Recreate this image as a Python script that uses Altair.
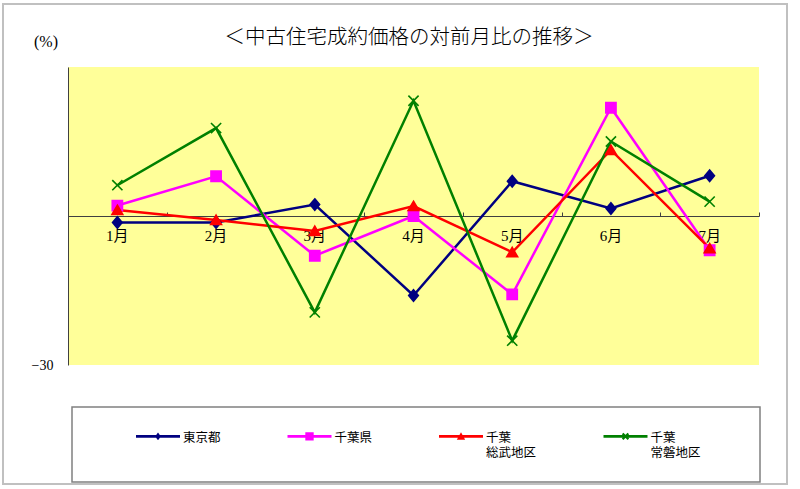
import altair as alt
import pandas as pd

# ---- data ----
months = ["1月", "2月", "3月", "4月", "5月", "6月", "7月"]
series_names = ["東京都", "千葉県", "千葉 総武地区", "千葉 常磐地区"]
tokyo = [-1.3, -1.3, 2.3, -16.0, 7.0, 1.5, 8.1]
chiba = [2.1, 8.0, -8.0, 0.0, -15.8, 21.8, -6.9]
sobu = [1.2, -0.8, -3.0, 2.0, -7.3, 13.3, -6.5]
joban = [6.2, 17.7, -19.4, 23.2, -25.1, 15.0, 2.9]
y_tick_values = [-30]
title_text = "＜中古住宅成約価格の対前月比の推移＞"
unit_text = "(%)"

colors = ["#000080", "#FF00FF", "#FF0000", "#008000"]

rows = []
for name, vals in zip(series_names, [tokyo, chiba, sobu, joban]):
    for m, v in zip(months, vals):
        rows.append({"month": m, "series": name, "value": v})
df = pd.DataFrame(rows)
one = pd.DataFrame({"k": [0]})

SERIF = "'Liberation Serif', 'Noto Sans CJK JP', serif"

# ---- marker shapes ----
def poly(pts):
    return "M" + "L".join(f"{x:.3f},{y:.3f}" for x, y in pts) + "Z"

marker_paths = [
    "M0,-0.95L0.8,0L0,0.95L-0.8,0Z",
    "M-0.85,-0.85L0.85,-0.85L0.85,0.85L-0.85,0.85Z",
    "M0,-0.8L0.9,0.75L-0.9,0.75Z",
    "M-0.85,-0.85L0.85,0.85M-0.85,0.85L0.85,-0.85",
]

dy = 0.2
line_rect = poly([(-1, dy - 0.065), (1, dy - 0.065), (1, dy + 0.065), (-1, dy + 0.065)])
a, d = 0.13, 0.035
legend_paths = [
    line_rect + poly([(0, dy - 0.18), (0.13, dy), (0, dy + 0.18), (-0.13, dy)]),
    line_rect + poly([(-0.19, dy - 0.19), (0.19, dy - 0.19), (0.19, dy + 0.19), (-0.19, dy + 0.19)]),
    line_rect + poly([(0, dy - 0.19), (0.19, dy + 0.15), (-0.19, dy + 0.15)]),
    line_rect
    + poly([(-a + d, dy - a - d), (a + d, dy + a - d), (a - d, dy + a + d), (-a - d, dy - a + d)])
    + poly([(-a - d, dy + a - d), (a - d, dy - a - d), (a + d, dy - a + d), (-a + d, dy + a + d)]),
]

xscale = alt.Scale(type="band", domain=months, paddingInner=0, paddingOuter=0)
yscale = alt.Scale(domain=[-30, 30], nice=False, zero=False)
cscale = alt.Scale(domain=series_names, range=colors)

x_bottom = alt.Axis(orient="bottom", offset=-149, title=None, labelAngle=0, ticks=False,
                    domain=True, domainColor="#404040", domainWidth=1, labelPadding=12,
                    labelFont=SERIF, labelFontSize=15, labelColor="black", grid=False)
x_top = alt.Axis(orient="top", offset=-149, title=None, labels=False, domain=False,
                 ticks=True, tickSize=4, tickBand="extent", tickColor="#404040", grid=False)
y_axis = alt.Axis(values=y_tick_values, title=None, ticks=False, domain=True,
                  domainColor="#404040", domainWidth=1, labelPadding=15,
                  labelFont=SERIF, labelFontSize=14, labelColor="black", grid=False)

base = alt.Chart(df)

lines = base.mark_line(strokeWidth=2.5).encode(
    x=alt.X("month:N", sort=months, scale=xscale, axis=x_bottom),
    y=alt.Y("value:Q", scale=yscale, axis=y_axis),
    color=alt.Color("series:N", scale=cscale, legend=None, sort=series_names),
    detail="series:N",
)

markers = base.mark_point(filled=True, opacity=1, size=144, strokeWidth=1.6).encode(
    x=alt.X("month:N", sort=months, scale=xscale, axis=x_top),
    y=alt.Y("value:Q", scale=yscale, axis=None),
    color=alt.Color("series:N", scale=cscale, legend=None),
    stroke=alt.Stroke("series:N", scale=cscale, legend=None),
    shape=alt.Shape("series:N", scale=alt.Scale(domain=series_names, range=marker_paths), legend=None),
)

label_expr = ("length(split(datum.label, ' ')) > 1 ? split(datum.label, ' ') "
              ": [datum.label, ' ']")
leg = dict(title=None, orient="none", legendX=68, legendY=343, direction="horizontal",
           columnPadding=66.5, labelOffset=3, labelFont=SERIF, labelFontSize=12.5,
           labelColor="black", labelBaseline="top", labelExpr=label_expr,
           symbolSize=1936, symbolOpacity=1, symbolStrokeWidth=0, padding=0, labelLimit=400)

legend_layer = base.mark_point(filled=True, opacity=0, size=1936).encode(
    x=alt.X("month:N", sort=months, scale=xscale, axis=None),
    y=alt.Y("value:Q", scale=yscale, axis=None),
    color=alt.Color("series:N", scale=cscale, legend=alt.Legend(**leg)),
    shape=alt.Shape("series:N", scale=alt.Scale(domain=series_names, range=legend_paths),
                    legend=alt.Legend(**leg)),
)

frame = alt.Chart(one).mark_rect(fillOpacity=0, stroke="#C0C0C0", strokeWidth=2).encode(
    x=alt.value(-65), x2=alt.value(719), y=alt.value(-63), y2=alt.value(417))
legend_box = alt.Chart(one).mark_rect(fillOpacity=0, stroke="#808080", strokeWidth=1.5).encode(
    x=alt.value(4), x2=alt.value(692), y=alt.value(340), y2=alt.value(415))

title = alt.Chart(one).mark_text(text=title_text, font=SERIF, fontSize=20.5, color="black",
                                 baseline="middle", align="center", fontWeight=300).encode(
    x=alt.value(341), y=alt.value(-29))
pct = alt.Chart(one).mark_text(text=unit_text, font=SERIF, fontSize=16, color="black",
                               baseline="middle", align="center").encode(
    x=alt.value(-22), y=alt.value(-25))

chart = alt.layer(frame, legend_box, lines, markers, legend_layer, title, pct).resolve_scale(
    color="independent", shape="independent", stroke="independent"
).resolve_axis(x="independent", y="independent").properties(
    width=691, height=298,
    autosize=alt.AutoSizeParams(type="none"),
    padding={"left": 68, "top": 67, "right": 41, "bottom": 124},
    background="white",
).configure_view(strokeWidth=0, fill="#FFFF99")

chart.save("out.html", embed_options={"renderer": "svg", "actions": False})
